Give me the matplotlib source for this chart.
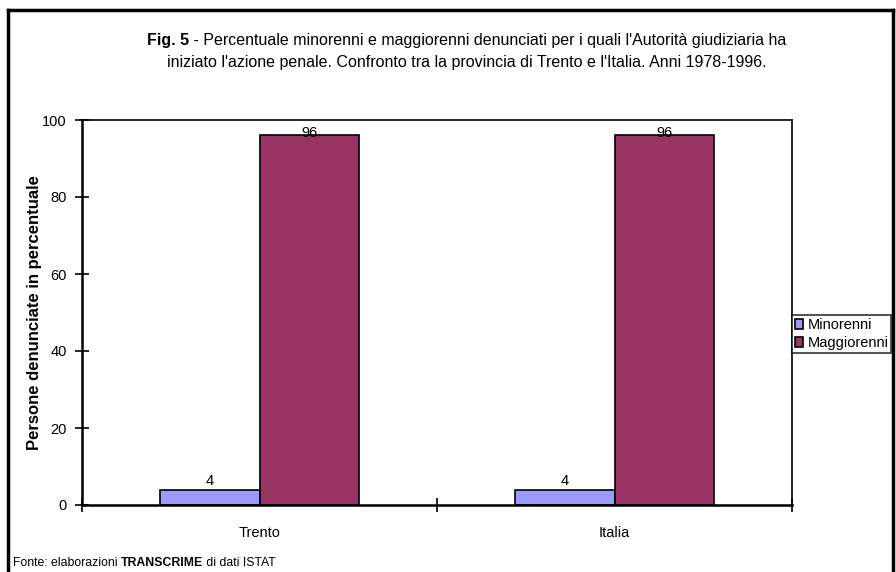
import matplotlib
matplotlib.use("Agg")
import matplotlib.pyplot as plt
from matplotlib.lines import Line2D
import numpy as np

plt.rcParams['font.family'] = ['Liberation Sans', 'DejaVu Sans']

categories = ["Trento", "Italia"]
series_names = ["Minorenni", "Maggiorenni"]
minorenni = [4, 4]
maggiorenni = [96, 96]
series_colors = ["#9999FF", "#993366"]

W, H = 896, 572
fig = plt.figure(figsize=(W / 100, H / 100), dpi=100)
ax = fig.add_axes([82 / W, 1 - 505 / H, (792 - 82) / W, (505 - 120) / H])

x = np.arange(len(categories))
bw = 0.28
bars = []
for i, (vals, col) in enumerate(zip([minorenni, maggiorenni], series_colors)):
    b = ax.bar(x + (i - 0.5) * bw, vals, bw, color=col, edgecolor="black",
               linewidth=1.2, label=series_names[i])
    bars.append(b)
    for rect, v in zip(b, vals):
        ax.annotate(f"{v:g}", (rect.get_x() + rect.get_width() / 2, v),
                    xytext=(0, 1.5 if v < 90 else -3), textcoords="offset points",
                    ha="center", va="bottom", fontsize=10.5)

ax.set_xlim(-0.5, 1.5)
ax.set_ylim(0, 100)
ax.set_yticks(np.arange(0, 101, 20))
ax.set_xticks(x)
ax.set_xticklabels(categories, fontsize=10.5)
ax.set_xticks([-0.5, 0.5, 1.5], minor=True)
ax.tick_params(axis="x", which="major", length=0, pad=15)
ax.tick_params(axis="x", which="minor", direction="inout", length=10, width=1.2)
ax.tick_params(axis="y", direction="inout", length=10, width=1.2, pad=6, labelsize=10.5)
for s in ax.spines.values():
    s.set_linewidth(1.2)
ax.spines["left"].set_linewidth(1.8)
ax.spines["bottom"].set_linewidth(1.8)

ax.set_ylabel("Persone denunciate in percentuale", fontsize=12, fontweight="bold")
ax.yaxis.set_label_coords(-0.056, 0.5)

# outer frame (open at the bottom)
for xs, ys in [([8, 8], [572, 10]), ([8, 893], [10, 10]), ([893, 893], [10, 572])]:
    fig.add_artist(Line2D([v / W for v in xs], [1 - v / H for v in ys],
                          color="black", linewidth=2.5))

# title: bold "Fig. 5" followed by plain text
renderer = fig.canvas.get_renderer()
title_lines = [
    ("Fig. 5", " - Percentuale minorenni e maggiorenni denunciati per i quali l'Autorità giudiziaria ha"),
    ("", "iniziato l'azione penale. Confronto tra la provincia di Trento e l'Italia. Anni 1978-1996."),
]
cx = 467 / W
for (bold, rest), yp in zip(title_lines, [41, 63]):
    y = 1 - yp / H
    tb = fig.text(0, y, bold, fontsize=11.5, fontweight="bold", va="center")
    tr = fig.text(0, y, rest, fontsize=11.5, va="center")
    wb = tb.get_window_extent(renderer).width / W if bold else 0
    wr = tr.get_window_extent(renderer).width / W
    x0 = cx - (wb + wr) / 2
    tb.set_x(x0)
    tr.set_x(x0 + wb)

# source note
parts = [("Fonte: elaborazioni ", "normal"), ("TRANSCRIME", "bold"), (" di dati ISTAT", "normal")]
xp = 13 / W
for txt, fw in parts:
    t = fig.text(xp, 1 - 563 / H, txt, fontsize=8.8, fontweight=fw, va="center")
    xp += t.get_window_extent(renderer).width / W

leg = fig.legend(handles=bars, labels=series_names, loc="upper left",
                 bbox_to_anchor=(792 / W, 1 - 315 / H), fontsize=10.5,
                 frameon=True, fancybox=False, edgecolor="black",
                 handlelength=0.55, handleheight=0.7, handletextpad=0.3,
                 borderpad=0.2, labelspacing=0.3, borderaxespad=0)
leg.get_frame().set_linewidth(1.2)

fig.savefig("out.png", dpi=100)
